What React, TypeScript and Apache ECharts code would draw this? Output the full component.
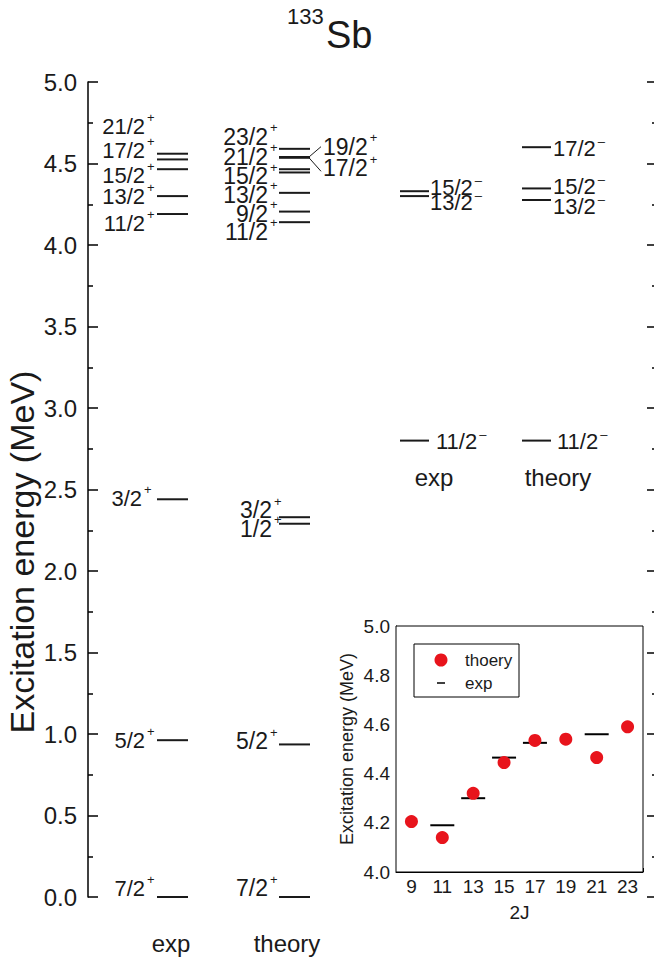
import React, { useEffect, useRef } from 'react';
import * as echarts from 'echarts';

const FONT = '"Liberation Sans", Arial, Helvetica, sans-serif';
const INK = '#1a1a1a';
const RED = '#e8141c';

// ---- main level scheme (MeV) ----
const expPosSpins = ['7/2', '5/2', '3/2', '11/2', '13/2', '15/2', '17/2', '21/2'];
const expPosEnergies = [0, 0.962, 2.44, 4.19, 4.30, 4.465, 4.525, 4.56];

const thPosSpins = ['7/2', '5/2', '1/2', '3/2', '11/2', '9/2', '13/2', '15/2', '21/2', '17/2', '19/2', '23/2'];
const thPosEnergies = [0, 0.936, 2.29, 2.33, 4.14, 4.205, 4.32, 4.445, 4.465, 4.535, 4.54, 4.59];

const expNegSpins = ['11/2', '13/2', '15/2'];
const expNegEnergies = [2.80, 4.30, 4.33];

const thNegSpins = ['11/2', '13/2', '15/2', '17/2'];
const thNegEnergies = [2.80, 4.276, 4.347, 4.60];

// ---- inset ----
const inset2J = [9, 11, 13, 15, 17, 19, 21, 23];
const insetTheory = [4.205, 4.14, 4.32, 4.445, 4.535, 4.54, 4.465, 4.59];
const inset2JExp = [11, 13, 15, 17, 21];
const insetExp = [4.19, 4.30, 4.465, 4.525, 4.56];

// ---- layout (page pixels) ----
type Col = {
  x1: number; x2: number; labelX: number; align: 'left' | 'right'; parity: string;
  dy: number[]; dx: number[]; side?: (string | null)[];
};

const colExpPos: Col = { x1: 157, x2: 188, labelX: 145, align: 'right', parity: '+',
  dy: [-9, 0, -1, 9, 0, 6, -9, -27], dx: [0, 0, -3, 0, 0, 0, 0, 0] };
const colThPos: Col = { x1: 279, x2: 310, labelX: 268, align: 'right', parity: '+',
  dy: [-9, -3, 5, -7, 9.5, 2, 2, 4, -12.5, 10.5, -10.3, -12], dx: [0, 0, 4, 4, 0, 0, 0, 0, 0, 0, 0, 0],
  side: [null, null, null, null, null, null, null, null, null, 'right', 'right', null] };
const colExpNeg: Col = { x1: 400, x2: 429, labelX: 430, align: 'left', parity: '–',
  dy: [1, 6, -4], dx: [6, 0, 0] };
const colThNeg: Col = { x1: 522, x2: 551, labelX: 553, align: 'left', parity: '–',
  dy: [1, 6, -2, 1], dx: [4, 0, 0, 0] };

let measureCtx: CanvasRenderingContext2D | null = null;
function textWidth(s: string, size: number) {
  if (!measureCtx) measureCtx = document.createElement('canvas').getContext('2d');
  if (!measureCtx) return s.length * size * 0.55;
  measureCtx.font = `${size}px ${FONT}`;
  return measureCtx.measureText(s).width;
}

function levelSeries(col: Col, spins: string[], energies: number[], fontSize: number) {
  return {
    type: 'custom',
    xAxisIndex: 0,
    yAxisIndex: 0,
    silent: true,
    data: energies.map((e, i) => [i, e]),
    renderItem: (params: any, api: any) => {
      const i = api.value(0);
      const e = api.value(1);
      const a = api.coord([col.x1, e]);
      const b = api.coord([col.x2, e]);
      const y = a[1];
      const children: any[] = [
        { type: 'line', shape: { x1: a[0], y1: y, x2: b[0], y2: y }, style: { stroke: INK, lineWidth: 2 } },
      ];
      const spin = spins[i];
      const side = col.side ? col.side[i] : null;
      const ly = y + col.dy[i];
      let align = col.align;
      let lx = col.labelX + col.dx[i];
      if (side === 'right') {
        align = 'left';
        lx = b[0] + 13;
        children.push({ type: 'line', shape: { x1: b[0] - 1, y1: y, x2: lx - 2, y2: ly + (col.dy[i] > 0 ? 3 : 0) },
          style: { stroke: INK, lineWidth: 1 } });
      }
      children.push({ type: 'text', style: { text: spin, x: lx, y: ly, align, verticalAlign: 'middle',
        fontSize, fontFamily: FONT, fill: INK } });
      const w = textWidth(spin, fontSize);
      const sx = align === 'right' ? lx + 2 : lx + w + 2;
      const isPlus = col.parity === '+';
      children.push({ type: 'text', style: { text: col.parity, x: sx, y: ly + (isPlus ? -9 : -7), align: 'left',
        verticalAlign: 'middle', fontSize: 13, fontFamily: FONT, fill: INK } });
      return { type: 'group', children };
    },
  };
}

export default function App() {
  const ref = useRef<HTMLDivElement>(null);
  useEffect(() => {
    document.body.style.margin = '0';
    if (!ref.current) return;
    const chart = echarts.init(ref.current, undefined, { renderer: 'svg' });
    const txt = (text: string, x: number, y: number, fontSize: number, align = 'center') => ({
      type: 'text', z: 100, style: { text, x, y, align, verticalAlign: 'middle', fontSize, fontFamily: FONT, fill: INK },
    });
    chart.setOption({
      animation: false,
      backgroundColor: '#fff',
      textStyle: { fontFamily: FONT },
      grid: [
        { left: 88, top: 82, width: 566, height: 815 },
        { left: 396, top: 626, width: 247, height: 246, show: true, backgroundColor: '#fff', borderColor: '#000', borderWidth: 1, z: 5 },
      ],
      xAxis: [
        { gridIndex: 0, type: 'value', min: 88, max: 654, show: false },
        {
          gridIndex: 1, type: 'value', min: 8, max: 24, interval: 1,
          axisLine: { lineStyle: { color: '#000', width: 1 } },
          axisTick: { inside: true, length: 4, lineStyle: { color: '#000' } },
          axisLabel: { fontSize: 19, color: INK, margin: 5, fontFamily: FONT,
            formatter: (v: number) => (v % 2 === 1 ? String(v) : '') },
          splitLine: { show: false },
          name: '2J', nameLocation: 'middle', nameGap: 31,
          nameTextStyle: { fontSize: 19, color: INK, fontFamily: FONT },
        },
      ],
      yAxis: [
        {
          gridIndex: 0, type: 'value', min: 0, max: 5, interval: 0.5, position: 'left',
          axisLine: { show: true, lineStyle: { color: '#000', width: 1.5 } },
          axisTick: { show: true, inside: true, length: 10, lineStyle: { color: '#000', width: 1.5 } },
          minorTick: { show: true, splitNumber: 2, length: 5, lineStyle: { color: '#000', width: 1.5 } },
          axisLabel: { fontSize: 24, color: INK, margin: 11, fontFamily: FONT, formatter: (v: number) => v.toFixed(1) },
          splitLine: { show: false },
        },
        {
          gridIndex: 0, type: 'value', min: 0, max: 5, interval: 0.5, position: 'right',
          axisLine: { show: false },
          axisTick: { show: true, inside: true, length: 7, lineStyle: { color: '#000', width: 1.5 } },
          minorTick: { show: true, splitNumber: 2, length: 2, lineStyle: { color: '#000', width: 1.5 } },
          axisLabel: { show: false },
          splitLine: { show: false },
        },
        {
          gridIndex: 1, type: 'value', min: 4, max: 5, interval: 0.2,
          axisLine: { show: true, lineStyle: { color: '#000', width: 1 } },
          axisTick: { show: true, inside: true, length: 6, lineStyle: { color: '#000' } },
          minorTick: { show: true, splitNumber: 2, length: 3, lineStyle: { color: '#000' } },
          axisLabel: { fontSize: 19, color: INK, margin: 6, fontFamily: FONT, formatter: (v: number) => v.toFixed(1) },
          splitLine: { show: false },
          name: 'Excitation energy (MeV)', nameLocation: 'middle', nameGap: 40, nameRotate: 90,
          nameTextStyle: { fontSize: 18, color: INK, fontFamily: FONT },
        },
      ],
      series: [
        levelSeries(colExpPos, expPosSpins, expPosEnergies, 22),
        levelSeries(colThPos, thPosSpins, thPosEnergies, 23),
        levelSeries(colExpNeg, expNegSpins, expNegEnergies, 22),
        levelSeries(colThNeg, thNegSpins, thNegEnergies, 22),
        {
          type: 'scatter', name: 'exp', xAxisIndex: 1, yAxisIndex: 2, z: 6,
          symbol: 'rect', symbolSize: [24, 2], itemStyle: { color: '#000', opacity: 1 },
          data: inset2JExp.map((j, i) => [j, insetExp[i]]),
        },
        {
          type: 'scatter', name: 'thoery', xAxisIndex: 1, yAxisIndex: 2, z: 7,
          symbol: 'circle', symbolSize: 13, itemStyle: { color: RED, opacity: 1 },
          data: inset2J.map((j, i) => [j, insetTheory[i]]),
        },
      ],
      graphic: [
        { type: 'text', z: 100, x: 22, y: 552, rotation: Math.PI / 2,
          style: { text: 'Excitation energy (MeV)', x: 0, y: 0, align: 'center', verticalAlign: 'middle',
            fontSize: 34, fontFamily: FONT, fill: INK } },
        txt('133', 287, 16, 22, 'left'),
        txt('Sb', 326, 35, 38, 'left'),
        txt('exp', 171, 943, 24),
        txt('theory', 287, 943, 24),
        txt('exp', 434, 477, 24),
        txt('theory', 558, 477, 24),
        { type: 'rect', z: 100, shape: { x: 414, y: 644, width: 105, height: 53 },
          style: { fill: '#fff', stroke: '#000', lineWidth: 1 } },
        { type: 'circle', z: 101, shape: { cx: 441, cy: 660, r: 6.5 }, style: { fill: RED } },
        { type: 'line', z: 101, shape: { x1: 437, y1: 683, x2: 445, y2: 683 }, style: { stroke: '#000', lineWidth: 1.5 } },
        { ...txt('thoery', 465, 660, 17, 'left'), z: 101 },
        { ...txt('exp', 465, 683, 17, 'left'), z: 101 },
      ],
    });
    return () => chart.dispose();
  }, []);
  return <div ref={ref} style={{ width: 654, height: 962 }} />;
}
